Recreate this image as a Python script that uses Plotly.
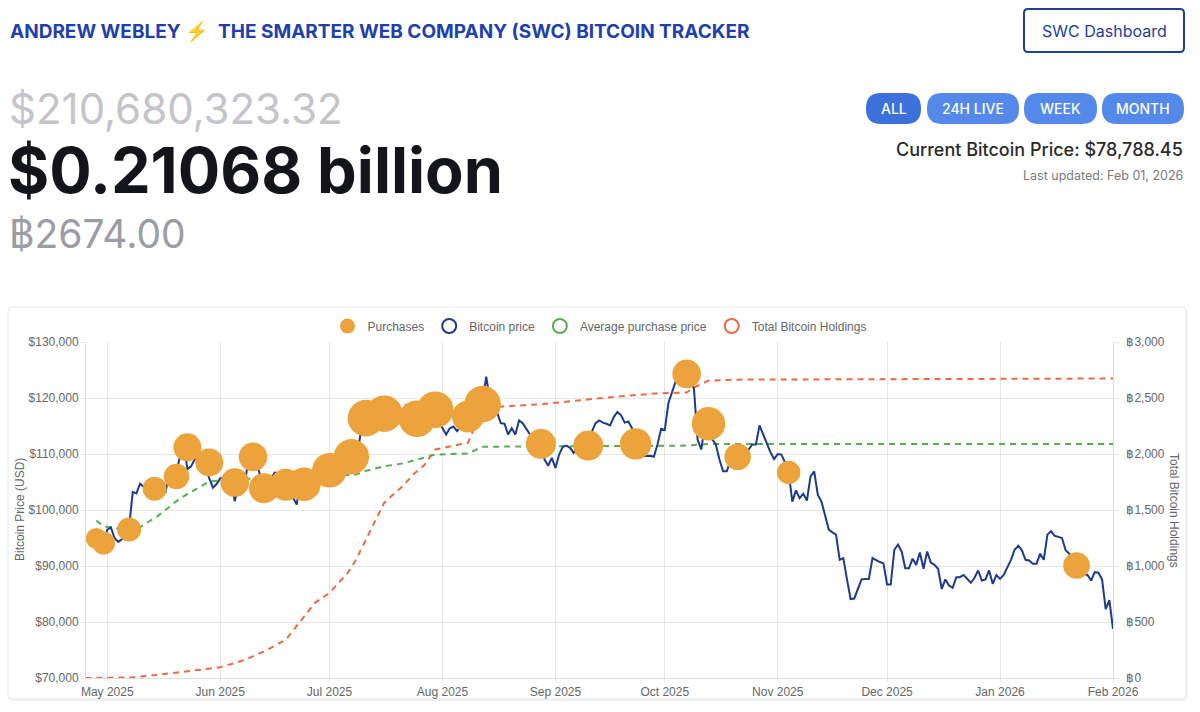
import plotly.graph_objects as go
import pandas as pd

# ---- data ----
# daily bitcoin price (USD), 25 Apr 2025 -> 1 Feb 2026
price_start = "2025-04-25"
apr_2025 = [94650, 94640, 93750, 94980, 94280, 94170]
may_2025 = [96490, 96890, 95000, 94310, 94750, 96830, 97030, 103240, 102970, 104700,
            104110, 102810, 104170, 103540, 103740, 103490, 103190, 106450, 105610, 106790,
            109670, 111670, 107290, 107790, 109040, 109440, 108990, 107800, 105640, 103990, 104640]
jun_2025 = [105650, 105880, 105430, 104730, 101580, 104390, 105620, 105790, 110290, 110260,
            108690, 105930, 106090, 105470, 105550, 106800, 104600, 104880, 104650, 103300,
            102200, 100960, 105330, 106060, 107320, 106950, 107090, 107330, 108390, 107140]
jul_2025 = [105700, 108850, 109620, 108030, 108230, 109200, 108260, 108950, 111330, 115990,
            117100, 117400, 117900, 118300, 117500, 117800, 118200, 117600, 117900, 117300,
            117440, 118700, 118400, 118200, 117640, 117950, 118600, 118060, 117920, 117830, 115760]
aug_2025 = [114600, 113500, 114600, 114900, 114100, 114900, 116500, 116700, 116500, 118500,
            118700, 119500, 123800, 119700, 117300, 117400, 115500, 115400, 113500, 114600,
            113500, 116000, 115500, 114600, 113500, 111500, 111200, 112000, 109000, 107900, 109300]
sep_2025 = [107500, 109900, 111300, 111500, 111100, 110200, 111200, 112100, 111500, 113000,
            114000, 115500, 116000, 115600, 115400, 115100, 116600, 117500, 116900, 115600,
            115800, 114600, 112000, 112800, 109600, 109600, 109700, 109500, 111700, 114500]
oct_2025 = [114300, 119100, 120900, 123000, 123500, 124700, 122400, 122800, 121700, 112600,
            110800, 115200, 115300, 112600, 111700, 109000, 106900, 106900, 108700, 110600,
            108500, 107600, 110100, 110800, 111700, 111700, 115100, 113500, 112000, 110300, 109100]
nov_2025 = [110000, 109900, 108500, 106700, 101500, 103500, 102100, 102900, 101700, 106000,
            106900, 102700, 101500, 99000, 96500, 96000, 95600, 91100, 91400, 87600,
            84100, 84200, 86100, 87600, 87700, 87700, 91400, 91000, 90700, 90500]
dec_2025 = [86700, 86700, 92900, 93800, 92600, 89600, 89600, 91300, 90200, 92400,
            89500, 92600, 90600, 90200, 89500, 85900, 87600, 86500, 86100, 88000,
            88000, 88400, 87700, 87000, 87900, 89200, 87400, 87600, 89200, 86800, 88400]
jan_2026 = [87700, 88400, 89800, 91100, 92900, 93600, 92800, 91100, 91000, 90400,
            90400, 92200, 91100, 95600, 96200, 95400, 95200, 95000, 92800, 92200,
            91200, 90100, 89500, 88600, 88400, 87400, 88900, 88800, 87600, 82300, 83900]
feb_2026 = [78790]

btc_price = (apr_2025 + may_2025 + jun_2025 + jul_2025 + aug_2025 + sep_2025
             + oct_2025 + nov_2025 + dec_2025 + jan_2026 + feb_2026)
price_dates = pd.date_range(price_start, periods=len(btc_price), freq="D")

# purchases: date, price paid, bubble radius
purchase_dates = ["2025-04-28", "2025-04-30", "2025-05-07", "2025-05-14", "2025-05-20",
                  "2025-05-23", "2025-05-29", "2025-06-05", "2025-06-10", "2025-06-13",
                  "2025-06-19", "2025-06-24", "2025-07-01", "2025-07-07", "2025-07-11",
                  "2025-07-16", "2025-07-25", "2025-07-30", "2025-08-08", "2025-08-12",
                  "2025-08-28", "2025-09-10", "2025-09-23", "2025-10-07", "2025-10-13",
                  "2025-10-21", "2025-11-04", "2026-01-22"]
purchase_prices = [94900, 94100, 96500, 103800, 106000, 111200, 108500, 104900, 109500, 103900,
                   104500, 104600, 107100, 109500, 116400, 117200, 116300, 117900, 116700, 118900,
                   111800, 111500, 111800, 124300, 115400, 109500, 106700, 90100]
purchase_r = [10.5, 11.5, 12, 12, 12.7, 14, 14, 14.3, 14.3, 15,
              16, 16.7, 17.3, 17.7, 18.3, 18.3, 18.3, 18.3, 16, 18.3,
              15, 15, 15.7, 14.3, 16.7, 13.3, 11.7, 13.3]

# average purchase price (USD)
avg_dates = ["2025-04-28", "2025-04-30", "2025-05-07", "2025-05-09", "2025-05-15",
             "2025-05-21", "2025-05-29", "2025-06-05", "2025-06-19", "2025-07-01",
             "2025-07-08", "2025-07-11", "2025-07-16", "2025-07-21", "2025-07-30",
             "2025-08-08", "2025-08-12", "2025-10-07", "2025-10-13", "2026-02-01"]
avg_price = [98100, 97100, 96400, 96500, 99000,
             102100, 105100, 105500, 105700, 106000,
             106300, 107000, 107800, 108300, 109900,
             110100, 111300, 111500, 111800, 111800]

# total bitcoin holdings (BTC)
hold_dates = ["2025-04-25", "2025-05-08", "2025-05-19", "2025-05-26", "2025-06-01",
              "2025-06-08", "2025-06-14", "2025-06-19", "2025-06-23", "2025-06-27",
              "2025-07-01", "2025-07-06", "2025-07-08", "2025-07-11", "2025-07-16",
              "2025-07-18", "2025-07-21", "2025-07-24", "2025-07-27", "2025-07-30",
              "2025-08-08", "2025-08-09", "2025-08-12", "2025-08-28", "2025-09-15",
              "2025-09-28", "2025-10-07", "2025-10-09", "2025-10-13", "2025-10-21",
              "2025-11-04", "2026-01-22", "2026-02-01"]
hold_btc = [0, 5, 45, 74, 95,
            164, 253, 342, 506, 671,
            760, 939, 1040, 1240, 1565,
            1624, 1710, 1818, 1900, 2040,
            2100, 2176, 2414, 2444, 2504,
            2540, 2549, 2593, 2655, 2664,
            2666, 2674, 2674]

# ---- page geometry (pixels) ----
W, H = 1200, 712
L, R, T, B = 86, 87, 342, 34
PW, PH = W - L - R, H - T - B


def px(x):
    return (x - L) / PW


def py(y):
    return (H - B - y) / PH


def rrect(x0, y0, x1, y1, r):
    p = [("M", x0 + r, y0), ("L", x1 - r, y0), ("Q", x1, y0, x1, y0 + r),
         ("L", x1, y1 - r), ("Q", x1, y1, x1 - r, y1), ("L", x0 + r, y1),
         ("Q", x0, y1, x0, y1 - r), ("L", x0, y0 + r), ("Q", x0, y0, x0 + r, y0)]
    out = []
    for seg in p:
        cmd, vals = seg[0], seg[1:]
        coords = []
        for i in range(0, len(vals), 2):
            coords.append(f"{px(vals[i]):.5f},{py(vals[i + 1]):.5f}")
        out.append(cmd + " " + " ".join(coords))
    return " ".join(out) + " Z"


ORANGE = "#eca33b"
NAVY = "#1e3a8a"
GREEN = "#5aad4f"
RED = "#ef6a42"
GRID = "#e6e6e6"
TXT = "#666666"

fig = go.Figure()

# legend entries (circle symbols like the original)
fig.add_trace(go.Scatter(x=[None], y=[None], yaxis="y2", mode="markers", name="Purchases",
                         marker=dict(size=15, color=ORANGE)))
for nm, col in [("Bitcoin price", NAVY), ("Average purchase price", GREEN),
                ("Total Bitcoin Holdings", RED)]:
    fig.add_trace(go.Scatter(x=[None], y=[None], yaxis="y2", mode="markers", name=nm,
                             marker=dict(size=14, symbol="circle-open", color=col,
                                         line=dict(width=2, color=col))))

# holdings on the base (right) axis -> bottom layer
fig.add_trace(go.Scatter(x=hold_dates, y=hold_btc, yaxis="y", mode="lines", showlegend=False,
                         line=dict(color=RED, width=2, dash="6px,5px")))
fig.add_trace(go.Scatter(x=avg_dates, y=avg_price, yaxis="y2", mode="lines", showlegend=False,
                         line=dict(color=GREEN, width=2, dash="6px,5px")))
fig.add_trace(go.Scatter(x=price_dates, y=btc_price, yaxis="y2", mode="lines", showlegend=False,
                         line=dict(color=NAVY, width=2)))
fig.add_trace(go.Scatter(x=purchase_dates, y=purchase_prices, yaxis="y2", mode="markers",
                         showlegend=False,
                         marker=dict(size=[2 * r for r in purchase_r], color=ORANGE,
                                     opacity=1, line=dict(width=0))))

shapes = [
    dict(type="path", path=rrect(9, 308, 1187, 700, 5), xref="paper", yref="paper",
         line=dict(color="#f3f3f3", width=2), fillcolor="white", layer="below"),
    dict(type="path", path=rrect(8, 307, 1186, 699, 5), xref="paper", yref="paper",
         line=dict(color="#e9e9e9", width=1), fillcolor="white", layer="below"),
    dict(type="path", path=rrect(1024, 9, 1184, 52, 4), xref="paper", yref="paper",
         line=dict(color="#1e3f9e", width=2), fillcolor="white"),
]
pills = [("ALL", 866, 921, "#3c70da"), ("24H LIVE", 927, 1019, "#5589e9"),
         ("WEEK", 1024, 1097, "#5589e9"), ("MONTH", 1102, 1184, "#5589e9")]
for lbl, a, b, col in pills:
    shapes.append(dict(type="path", path=rrect(a, 93, b, 124, 15), xref="paper", yref="paper",
                       line=dict(width=0), fillcolor=col))

ann = []


def text(x, y, s, size, color, weight=400, anchor="left", family="Inter", angle=0):
    ann.append(dict(x=px(x), y=py(y), xref="paper", yref="paper", text=s, showarrow=False,
                    xanchor=anchor, yanchor="middle", textangle=angle,
                    font=dict(family=family, size=size, color=color, weight=weight)))


text(8, 31, "ANDREW WEBLEY <span style='color:#f2b53c'>⚡</span>\u00a0 THE SMARTER WEB COMPANY (SWC) BITCOIN TRACKER",
     19, "#1e40af", 700)
text(7, 108, "$210,680,323.32", 42, "#c4c4ca")
text(6, 170, "$0.21068 billion", 63, "#13151b", 700)
text(7, 233, "฿2674.00", 39, "#9c9ca4")
text(1104, 31, "SWC Dashboard", 16, "#1e3f9e", anchor="center")
for lbl, a, b, col in pills:
    text((a + b) / 2, 108.5, lbl, 14, "white", 500, anchor="center")
text(1185, 149, "Current Bitcoin Price: $78,788.45", 18, "#2a2a2a", 500, anchor="right")
text(1185, 175, "Last updated: Feb 01, 2026", 12.5, "#7a7a7a", anchor="right")
text(20, 510, "Bitcoin Price (USD)", 12, TXT, family="Liberation Sans", anchor="center", angle=-90)
text(1174, 510, "Total Bitcoin Holdings", 12, TXT, family="Liberation Sans", anchor="center", angle=90)

fig.update_layout(
    width=W, height=H,
    margin=dict(l=L, r=R, t=T, b=B),
    paper_bgcolor="white", plot_bgcolor="white",
    font=dict(family="Liberation Sans, Arial, sans-serif", size=12, color=TXT),
    shapes=shapes, annotations=ann,
    showlegend=True,
    legend=dict(orientation="h", x=0.5, xanchor="center", y=py(326), yanchor="middle",
                font=dict(size=12, color=TXT), itemwidth=30, bgcolor="rgba(0,0,0,0)"),
    xaxis=dict(type="date", range=["2025-04-25 04:00", "2026-02-01"],
               tick0="2025-05-01", dtick="M1", tickformat="%b %Y",
               showgrid=True, gridcolor=GRID, zeroline=False,
               showline=True, linecolor="#dcdcdc", ticks="outside", ticklen=3, tickcolor=GRID,
               tickfont=dict(size=12, color=TXT)),
    yaxis=dict(range=[0, 3000], dtick=500, side="right", tickprefix="฿", tickformat=",",
               showgrid=True, gridcolor=GRID, zeroline=False,
               showline=True, linecolor="#dcdcdc", ticks="outside", ticklen=5, tickcolor=GRID,
               ticklabelstandoff=5, tickfont=dict(size=12, color=TXT)),
    yaxis2=dict(range=[70000, 130000], dtick=10000, side="left", overlaying="y",
                tickprefix="$", tickformat=",", showgrid=False, zeroline=False,
                showline=True, linecolor="#dcdcdc", ticks="outside", ticklen=4, tickcolor=GRID,
                tickfont=dict(size=12, color=TXT)),
)

fig.write_html("out.html", config={"displayModeBar": False},
               post_script="document.body.style.margin='0';")
